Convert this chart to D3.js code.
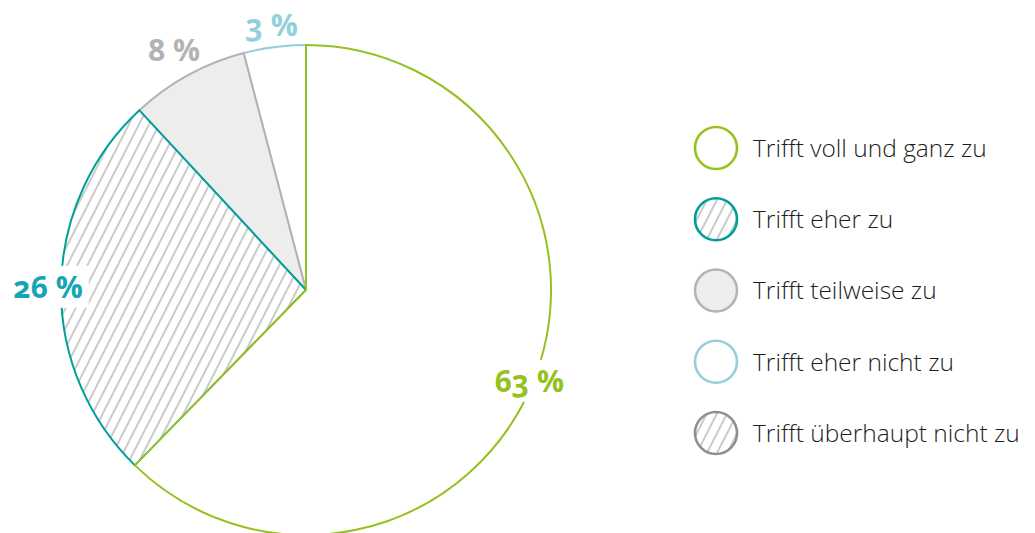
<!DOCTYPE html>
<html>
<head>
<meta charset="utf-8">
<script src="https://cdn.jsdelivr.net/npm/d3@7"></script>
<style>
  body { margin: 0; background: #fff; }
  svg { display: block; }
</style>
</head>
<body>
<div id="plot"></div>
<script>

// answer categories, shares and printed labels
var categories = ["Trifft voll und ganz zu", "Trifft eher zu", "Trifft teilweise zu", "Trifft eher nicht zu", "Trifft überhaupt nicht zu"];
var shares = [62.3, 25.8, 7.8, 4.1, 0];
var labels = ["63 %", "26 %", "8 %", "3 %", ""];

var strokeColors = ["#95c11f", "#00a09a", "#b3b3b3", "#93d0dc", "#8f8f8f"];
var fillKinds = ["none", "hatch", "#ededed", "none", "hatch"];
var labelColors = ["#95c11f", "#17a4b6", "#b3b3b3", "#93d0dc", "#8f8f8f"];

window.onload = function(){

    buildChart();

};

function buildChart(){

    var width = 1035;
    var height = 533;

    var cx = 306;
    var cy = 290;
    var radius = 245;

    var svg = d3.select("#plot")
        .append("svg")
        .attr("width", width)
        .attr("height", height);

    var defs = svg.append("defs");

    var pattern = defs.append("pattern")
        .attr("id", "hatch")
        .attr("patternUnits", "userSpaceOnUse")
        .attr("width", 9)
        .attr("height", 9)
        .attr("patternTransform", "rotate(27)");

    pattern.append("rect")
        .attr("width", 9)
        .attr("height", 9)
        .attr("fill", "#fff");

    pattern.append("line")
        .attr("x1", 1).attr("y1", 0)
        .attr("x2", 1).attr("y2", 9)
        .attr("stroke", "#8a8a8a")
        .attr("stroke-width", 0.9);

    var data = categories.map((c, i) => ({
        name: c,
        value: shares[i],
        label: labels[i],
        stroke: strokeColors[i],
        fill: fillKinds[i] == "hatch" ? "url(#hatch)" : (fillKinds[i] == "none" ? "#fff" : fillKinds[i]),
        labelColor: labelColors[i],
        index: i
    }));

    var pie = d3.pie()
        .sort(null)
        .value(d => d.value);

    var arcs = pie(data).filter(d => d.data.value > 0);

    var arc = d3.arc()
        .innerRadius(0)
        .outerRadius(radius);

    var g = svg.append("g")
        .attr("transform", "translate(" + cx + "," + cy + ")");

    // draw last slice first so the earlier slice's border lies on top
    g.selectAll("path.slice")
        .data(arcs.slice().reverse())
        .enter()
        .append("path")
        .attr("class", "slice")
        .attr("d", arc)
        .attr("fill", d => d.data.fill)
        .attr("stroke", d => d.data.stroke)
        .attr("stroke-width", 2)
        .attr("stroke-linejoin", "miter");

    var total = d3.sum(shares);
    var halfH = 21;

    var labelG = g.selectAll("g.label")
        .data(arcs)
        .enter()
        .append("g")
        .attr("class", "label");

    labelG.append("rect")
        .attr("fill", "#fff");

    labelG.append("text")
        .attr("text-anchor", "middle")
        .attr("dy", "0.36em")
        .style("font-family", "'Open Sans', sans-serif")
        .style("font-weight", "700")
        .style("font-size", "30px")
        .style("font-variant-numeric", "oldstyle-nums")
        .attr("fill", d => d.data.labelColor)
        .text(d => d.data.label);

    // big slices: label sits on the rim over a white patch; small slices: label just outside it
    labelG.each(function(d){

        var node = d3.select(this);
        var box = node.select("text").node().getBBox();
        var share = d.value / total;

        if(share < 0.1){

            node.select("rect").remove();

        } else {

            node.select("rect")
                .attr("x", box.x - 6)
                .attr("y", -halfH)
                .attr("width", box.width + 12)
                .attr("height", halfH * 2);

        }

        var a = (d.startAngle + d.endAngle) / 2;
        var sx = Math.sin(a);
        var sy = -Math.cos(a);
        var r;

        if(share < 0.1){

            var half = Math.abs(sx) * box.width / 2 + Math.abs(sy) * halfH;
            r = radius + half - 2;

        } else if(share < 0.5){

            r = radius + 13;

        } else {

            r = radius - 4;

        }

        node.attr("transform", "translate(" + (r * sx) + "," + (r * sy) + ")");

    });

    // legend
    var legendY = d3.scalePoint()
        .domain(categories)
        .range([148, 433]);

    var legend = svg.append("g")
        .selectAll("g")
        .data(data)
        .enter()
        .append("g")
        .attr("transform", d => "translate(716," + legendY(d.name) + ")");

    legend.append("circle")
        .attr("r", 21)
        .attr("fill", d => d.fill)
        .attr("stroke", d => d.stroke)
        .attr("stroke-width", 2.6);

    legend.append("text")
        .attr("x", 37)
        .attr("dy", "0.36em")
        .style("font-family", "'Open Sans', sans-serif")
        .style("font-weight", "300")
        .style("font-size", "24.5px")
        .attr("fill", "#1d1d1b")
        .text(d => d.name);

}

</script>
</body>
</html>
